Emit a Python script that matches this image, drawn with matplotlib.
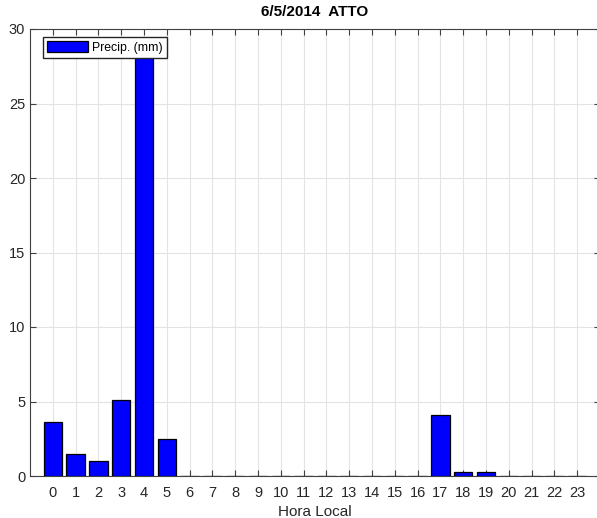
import matplotlib
matplotlib.use("Agg")
import matplotlib.pyplot as plt

plt.rcParams['font.family'] = ['Liberation Sans', 'DejaVu Sans']

hours = list(range(24))
precip = [3.6, 1.5, 1.0, 5.1, 28.1, 2.5, 0, 0, 0, 0, 0, 0,
          0, 0, 0, 0, 0, 4.1, 0.25, 0.25, 0, 0, 0, 0]
yticks = [0, 5, 10, 15, 20, 25, 30]

fig = plt.figure(figsize=(5.97, 5.18), dpi=100)
ax = fig.add_axes([30 / 597, 42 / 518, 570 / 597, 447 / 518])

ax.bar(hours, precip, width=0.8, color='#0000ff', edgecolor='black',
       linewidth=0.9, label='Precip. (mm)', zorder=3)

ax.set_xlim(-1, 24)
ax.set_ylim(0, 30)
ax.set_xticks(hours)
ax.set_yticks(yticks)
ax.grid(True, color='#e3e3e3', linewidth=0.8, zorder=0)
ax.tick_params(direction='in', top=True, right=True, length=4,
               labelsize=10.5, colors='#404040', labelcolor='#262626', width=0.8)
ax.tick_params(axis='x', pad=7)
for s in ax.spines.values():
    s.set_color('#404040')
    s.set_linewidth(0.8)
# right edge of the box is cropped off in the original
ax.spines['right'].set_visible(False)

ax.set_title('6/5/2014  ATTO', fontsize=11, fontweight='bold', pad=9)
ax.set_xlabel('Hora Local', fontsize=11, color='#262626', labelpad=4)

leg = ax.legend(loc='upper left', fontsize=8.8, fancybox=False, framealpha=1,
                edgecolor='#262626', handlelength=3.3, handleheight=1.0,
                borderpad=0.35, handletextpad=0.35, borderaxespad=0,
                bbox_to_anchor=(0.023, 0.982))
leg.set_zorder(5)

fig.savefig('out.png', dpi=100)
